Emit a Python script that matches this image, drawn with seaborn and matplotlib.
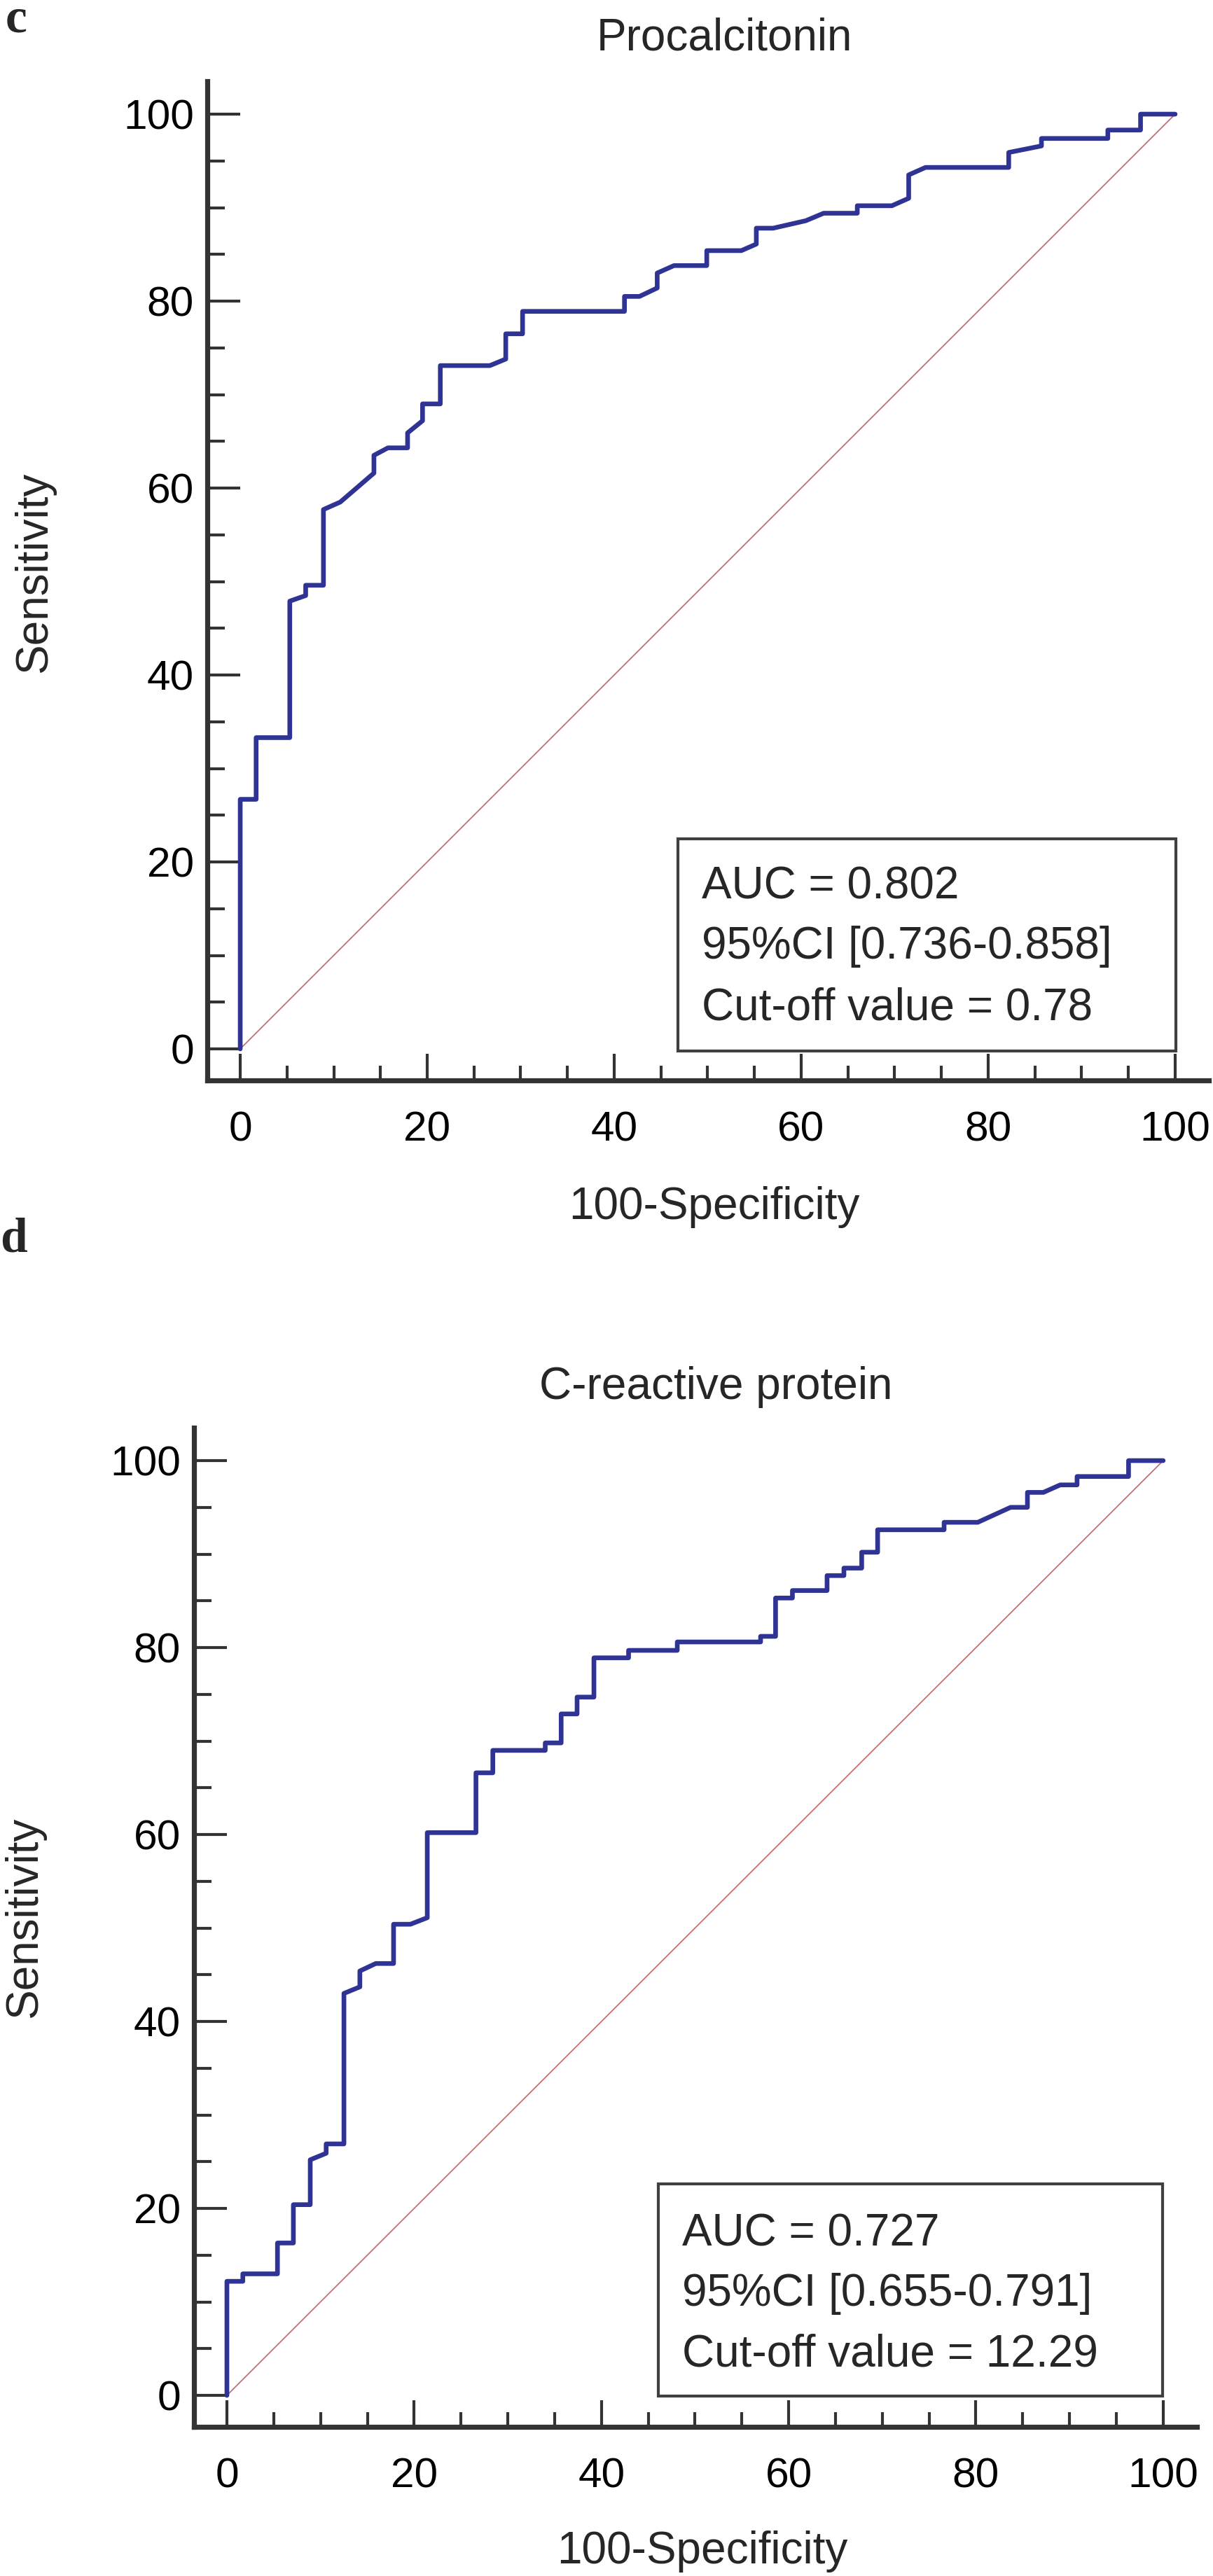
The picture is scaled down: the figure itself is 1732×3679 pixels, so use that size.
import pandas as pd
import seaborn as sns
import matplotlib.pyplot as plt
from matplotlib.patches import Rectangle
from matplotlib.ticker import MultipleLocator

# -------------------------------
# Data
# -------------------------------
pct_fpr = [0, 0, 1.7, 1.7, 5.3, 5.3, 7.0, 7.0, 8.9, 8.9, 10.7, 14.3, 14.3, 15.8,
           17.9, 17.9, 19.5, 19.5, 21.4, 21.4, 26.7, 28.4, 28.4, 30.2, 30.2,
           41.1, 41.1, 42.7, 44.6, 44.6, 46.4, 49.9, 49.9, 53.6, 55.2, 55.2,
           57.0, 60.5, 62.4, 66.0, 66.0, 69.7, 71.5, 71.5, 73.3, 82.2, 82.2,
           85.7, 85.7, 92.8, 92.8, 96.3, 96.3, 100]
pct_tpr = [0, 26.7, 26.7, 33.3, 33.3, 47.9, 48.5, 49.6, 49.6, 57.7, 58.5, 61.6,
           63.5, 64.3, 64.3, 65.9, 67.2, 69.0, 69.0, 73.1, 73.1, 73.8, 76.5,
           76.5, 78.9, 78.9, 80.5, 80.5, 81.4, 83.0, 83.8, 83.8, 85.4, 85.4,
           86.1, 87.8, 87.8, 88.6, 89.4, 89.4, 90.2, 90.2, 91.0, 93.5, 94.3,
           94.3, 95.9, 96.6, 97.4, 97.4, 98.3, 98.3, 100, 100]

crp_fpr = [0, 0, 1.7, 1.7, 5.4, 5.4, 7.1, 7.1, 8.9, 8.9, 10.6, 10.6, 12.5, 12.5,
           14.2, 14.2, 15.9, 17.8, 17.8, 19.6, 21.4, 21.4, 26.6, 26.6, 28.4,
           28.4, 34.0, 34.0, 35.7, 35.7, 37.4, 37.4, 39.2, 39.2, 42.9, 42.9,
           48.1, 48.1, 57.0, 57.0, 58.6, 58.6, 60.4, 60.4, 64.1, 64.1, 65.9,
           65.9, 67.8, 67.8, 69.5, 69.5, 76.6, 76.6, 80.2, 83.7, 85.5, 85.5,
           87.2, 89.0, 90.8, 90.8, 96.3, 96.3, 100]
crp_tpr = [0, 12.2, 12.2, 13.0, 13.0, 16.3, 16.3, 20.4, 20.4, 25.2, 25.9, 26.9,
           26.9, 43.0, 43.7, 45.4, 46.2, 46.2, 50.4, 50.4, 51.1, 60.2, 60.2,
           66.6, 66.6, 69.0, 69.0, 69.8, 69.8, 72.9, 72.9, 74.7, 74.7, 78.9,
           78.9, 79.7, 79.7, 80.6, 80.6, 81.2, 81.2, 85.3, 85.3, 86.1, 86.1,
           87.7, 87.7, 88.5, 88.5, 90.2, 90.2, 92.6, 92.6, 93.4, 93.4, 95.0,
           95.0, 96.6, 96.6, 97.4, 97.4, 98.3, 98.3, 100, 100]

titles = ["Procalcitonin", "C-reactive protein"]
auc_text = ["AUC = 0.802", "AUC = 0.727"]
ci_text = ["95%CI [0.736-0.858]", "95%CI [0.655-0.791]"]
cut_text = ["Cut-off value = 0.78", "Cut-off value = 12.29"]
ticks = [0, 20, 40, 60, 80, 100]

# -------------------------------
# Style
# -------------------------------
sns.set_style("white")
plt.rcParams["font.family"] = ["Liberation Sans", "DejaVu Sans"]

W, H = 1733, 3679
fig = plt.figure(figsize=(W / 100, H / 100), dpi=100)

AX = "#333333"
CURVE = "#2f3393"
DIAG = "#c96f6f"


def fx(px):
    return px / W


def fy(py):
    return 1 - py / H


def roc_panel(rect, fpr, tpr, k, box, text_x, text_y):
    ax = fig.add_axes(rect)
    df = pd.DataFrame({"fpr": fpr, "tpr": tpr})
    diag = pd.DataFrame({"fpr": [0, 100], "tpr": [0, 100]})
    sns.lineplot(data=diag, x="fpr", y="tpr", ax=ax, color=DIAG,
                 linewidth=1.3, sort=False, estimator=None)
    sns.lineplot(data=df, x="fpr", y="tpr", ax=ax, color=CURVE,
                 linewidth=4.8, sort=False, estimator=None)

    ax.set_xlim(-3.5, 103.6)
    ax.set_ylim(-3.4, 103.5)
    ax.set_xticks(ticks)
    ax.set_yticks(ticks)
    ax.xaxis.set_minor_locator(MultipleLocator(5))
    ax.yaxis.set_minor_locator(MultipleLocator(5))
    ax.set_xlabel("")
    ax.set_ylabel("")

    for s in ["top", "right"]:
        ax.spines[s].set_visible(False)
    for s in ["left", "bottom"]:
        ax.spines[s].set_color(AX)
        ax.spines[s].set_linewidth(5.2)

    ax.tick_params(axis="both", which="both", direction="in", color=AX,
                   width=3, labelsize=43.5, labelcolor="black",
                   bottom=True, left=True)
    ax.tick_params(axis="x", which="major", length=27.5, pad=31)
    ax.tick_params(axis="x", which="minor", length=15)
    ax.tick_params(axis="y", which="major", length=34, pad=14)
    ax.tick_params(axis="y", which="minor", length=18)

    # text box with AUC info
    x0, x1, y0, y1 = box
    ax.add_patch(Rectangle((x0, y0), x1 - x0, y1 - y0, fill=False,
                           edgecolor="#404040", lw=3, zorder=5))
    for t, yy in zip([auc_text[k], ci_text[k], cut_text[k]], text_y):
        ax.text(text_x, yy, t, fontsize=46, va="baseline", ha="left")
    return ax


# -------------------------------
# Panel c - Procalcitonin
# -------------------------------
roc_panel([fx(296.3), fy(1543.4), fx(1726) - fx(296.3), (1543.4 - 116.3) / H],
          pct_fpr, pct_tpr, 0, (46.8, 100.1, -0.2, 22.5), 49.4,
          [16.1, 9.7, 3.1])
fig.text(fx(1034), fy(72), titles[0], fontsize=46, ha="center", va="baseline")
fig.text(fx(1020), fy(1741), "100-Specificity", fontsize=46,
         ha="center", va="baseline")
fig.text(fx(66), fy(817), "Sensitivity", fontsize=46, rotation=90,
         rotation_mode="anchor", ha="center", va="baseline")
fig.text(fx(8), fy(46), "c", fontsize=50, fontweight="bold",
         family="Liberation Serif", ha="left", va="baseline")

# -------------------------------
# Panel d - C-reactive protein
# -------------------------------
roc_panel([fx(277.2), fy(3466.4), fx(1709) - fx(277.2), (3466.4 - 2039.3) / H],
          crp_fpr, crp_tpr, 1, (46.1, 99.9, -0.1, 22.6), 48.6,
          [16.0, 9.6, 3.1])
fig.text(fx(1022.5), fy(1998), titles[1], fontsize=46, ha="center",
         va="baseline")
fig.text(fx(1003), fy(3661), "100-Specificity", fontsize=46,
         ha="center", va="baseline")
fig.text(fx(52), fy(2738), "Sensitivity", fontsize=46, rotation=90,
         rotation_mode="anchor", ha="center", va="baseline")
fig.text(fx(0), fy(1787), "d", fontsize=50, fontweight="bold",
         family="Liberation Serif", ha="left", va="baseline")

fig.savefig("out.png", dpi=100, facecolor="white")
